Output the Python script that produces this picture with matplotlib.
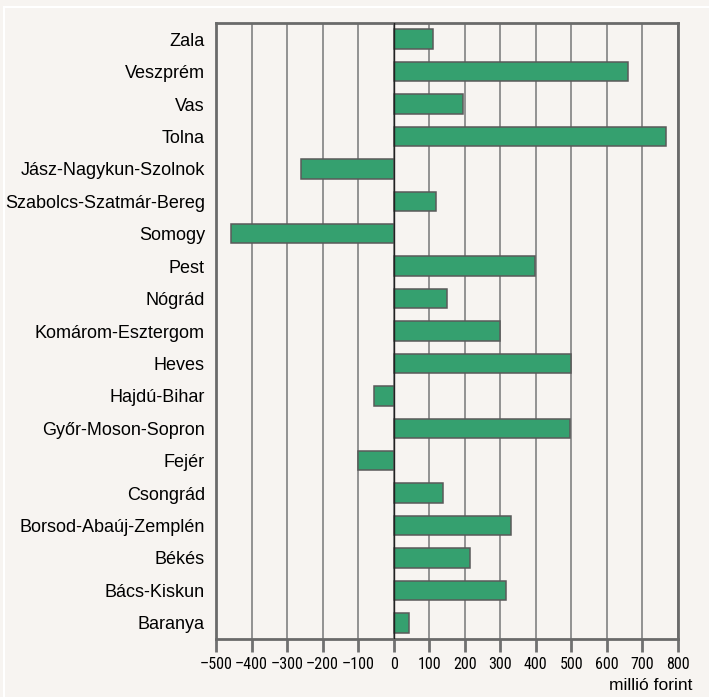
import matplotlib
matplotlib.use('Agg')
import matplotlib.pyplot as plt
from matplotlib import font_manager
from matplotlib.patches import Rectangle

counties = ['Zala', 'Veszprém', 'Vas', 'Tolna', 'Jász-Nagykun-Szolnok',
            'Szabolcs-Szatmár-Bereg', 'Somogy', 'Pest', 'Nógrád',
            'Komárom-Esztergom', 'Heves', 'Hajdú-Bihar', 'Győr-Moson-Sopron',
            'Fejér', 'Csongrád', 'Borsod-Abaúj-Zemplén', 'Békés',
            'Bács-Kiskun', 'Baranya']
values = [112, 659, 194, 766, -260, 119, -459, 399, 150, 298, 500, -56,
          496, -101, 139, 329, 216, 317, 42]
xticks = list(range(-500, 801, 100))
xtick_labels = [str(t).replace('-', '\u2013') for t in xticks]

# narrow font for the x tick labels if there is one
fonts = font_manager.fontManager.ttflist
names = {f.name for f in fonts}
narrow = None
for cand in ['Liberation Sans Narrow', 'Roboto Condensed', 'Open Sans Condensed']:
    if cand in names:
        narrow = dict(family=cand)
        break
if narrow is None and any(f.name == 'DejaVu Sans' and f.stretch == 'condensed' for f in fonts):
    narrow = dict(family='DejaVu Sans', stretch='condensed')

bg = '#f7f4f1'
fig = plt.figure(figsize=(7.09, 6.97), dpi=100, facecolor=bg)
fig.patches.append(Rectangle((4 / 709, -0.1), 1.2, (697 - 7) / 697 + 0.1,
                             transform=fig.transFigure, fill=False,
                             edgecolor='white', linewidth=1.5))
ax = fig.add_axes([216 / 709, 58 / 697, 462 / 709, 616 / 697])
ax.set_facecolor(bg)

ax.barh(range(len(counties)), values, height=0.6, color='#35a06f',
        edgecolor='#5a5a5a', linewidth=1.1, zorder=3)
ax.axvline(0, color='#222222', linewidth=1, zorder=4)

ax.set_ylim(len(counties) - 0.5, -0.5)
ax.set_xlim(-500, 800)
ax.set_yticks(range(len(counties)))
ax.set_yticklabels(counties, fontsize=13, family='Liberation Sans')
ax.tick_params(axis='y', length=0, pad=8)

ax.set_xticks(xticks)
if narrow:
    ax.set_xticklabels(xtick_labels, fontsize=11.5, **narrow)
else:
    ax.set_xticklabels(xtick_labels, fontsize=11.5, family='Liberation Sans')
ax.tick_params(axis='x', length=9, width=2, color='#707070', pad=4)
ax.grid(axis='x', color='#8a8a8a', linewidth=1.3, zorder=0)
ax.set_axisbelow(True)

for s in ax.spines.values():
    s.set_color('#6a6a6a')
    s.set_linewidth(2)

fig.text(692 / 709, 1 - 686 / 697, 'millió forint', ha='right', va='center',
         fontsize=12.5, family='Liberation Sans')

fig.savefig('out.png', dpi=100, facecolor=bg)
